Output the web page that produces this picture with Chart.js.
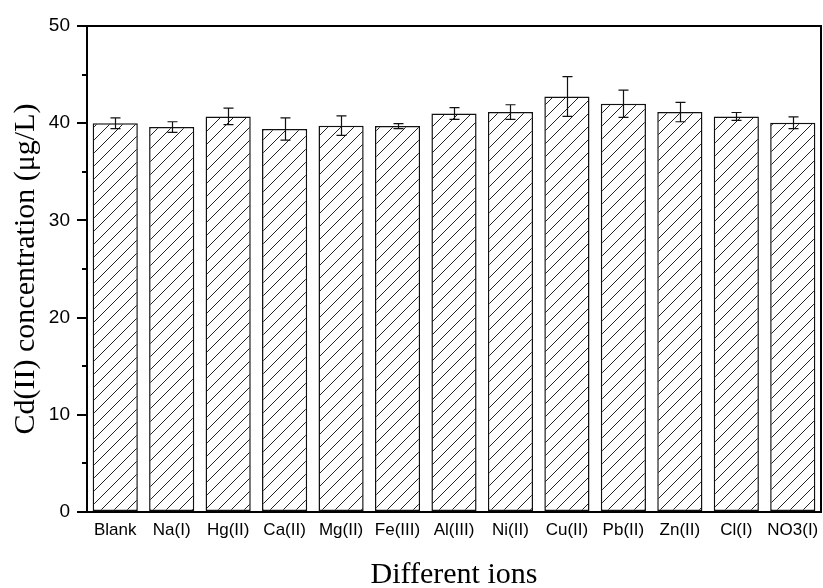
<!DOCTYPE html>
<html>
<head>
<meta charset="utf-8">
<script src="https://cdn.jsdelivr.net/npm/chart.js@4.4.1/dist/chart.umd.min.js"></script>
<style>
  html, body { margin: 0; padding: 0; background: #fff; }
  canvas { display: block; }
</style>
</head>
<body>
<canvas id="c" width="823" height="588"></canvas>
<script>
// Cd(II) recovery in the presence of interfering ions
const ions = ['Blank', 'Na(I)', 'Hg(II)', 'Ca(II)', 'Mg(II)', 'Fe(III)', 'Al(III)',
              'Ni(II)', 'Cu(II)', 'Pb(II)', 'Zn(II)', 'Cl(I)', 'NO3(I)'];
const cdConcentration = [40.0, 39.6, 40.7, 39.4, 39.75, 39.7, 41.0,
                         41.15, 42.75, 42.0, 41.15, 40.7, 40.05];
const cdError = [0.55, 0.55, 0.85, 1.15, 1.0, 0.25, 0.6,
                 0.75, 2.05, 1.4, 1.0, 0.4, 0.6];
const yMajorTicks = [0, 10, 20, 30, 40, 50];
const yMinorTicks = [5, 15, 25, 35, 45];

const SANS = "'Liberation Sans', Arial, Helvetica, sans-serif";
const SERIF = "'Liberation Serif', 'Times New Roman', Times, serif";

// diagonal "/" hatch fill
function hatchPattern() {
  const s = 13;
  const pc = document.createElement('canvas');
  pc.width = s; pc.height = s;
  const g = pc.getContext('2d');
  g.fillStyle = '#fff';
  g.fillRect(0, 0, s, s);
  g.strokeStyle = '#222';
  g.lineWidth = 1;
  g.beginPath();
  g.moveTo(-1, s + 1); g.lineTo(s + 1, -1);
  g.moveTo(-1, 1); g.lineTo(1, -1);
  g.moveTo(s - 1, s + 1); g.lineTo(s + 1, s - 1);
  g.stroke();
  return document.getElementById('c').getContext('2d').createPattern(pc, 'repeat');
}

// error bars, minor y ticks and the closing frame
const extras = {
  id: 'extras',
  afterDatasetsDraw(chart) {
    const ctx = chart.ctx;
    const y = chart.scales.y;
    const meta = chart.getDatasetMeta(0);
    ctx.save();
    ctx.strokeStyle = '#111';
    ctx.lineWidth = 1.2;
    const cap = 5;
    meta.data.forEach((bar, i) => {
      const cx = Math.round(bar.x) + 0.5;
      const top = y.getPixelForValue(cdConcentration[i] + cdError[i]);
      const bot = y.getPixelForValue(cdConcentration[i] - cdError[i]);
      ctx.beginPath();
      ctx.moveTo(cx, top); ctx.lineTo(cx, bot);
      ctx.moveTo(cx - cap, top); ctx.lineTo(cx + cap, top);
      ctx.moveTo(cx - cap, bot); ctx.lineTo(cx + cap, bot);
      ctx.stroke();
    });
    ctx.restore();
  },
  afterDraw(chart) {
    const ctx = chart.ctx;
    const a = chart.chartArea;
    const y = chart.scales.y;
    ctx.save();
    ctx.strokeStyle = '#000';
    ctx.lineWidth = 2;
    ctx.beginPath();
    ctx.moveTo(a.left, a.top);
    ctx.lineTo(a.right, a.top);
    ctx.lineTo(a.right, a.bottom);
    ctx.stroke();
    ctx.beginPath();
    yMinorTicks.forEach(v => {
      const py = Math.round(y.getPixelForValue(v));
      ctx.moveTo(a.left - 5, py);
      ctx.lineTo(a.left, py);
    });
    ctx.stroke();
    ctx.restore();
  }
};

new Chart(document.getElementById('c'), {
  type: 'bar',
  data: {
    labels: ions,
    datasets: [{
      data: cdConcentration,
      backgroundColor: hatchPattern(),
      borderColor: '#111',
      borderWidth: 1.5,
      borderSkipped: false,
      barPercentage: 0.8,
      categoryPercentage: 1.0
    }]
  },
  options: {
    responsive: false,
    animation: false,
    devicePixelRatio: 1,
    layout: { padding: { top: 26, right: 2, left: 0, bottom: 0 } },
    plugins: { legend: { display: false }, tooltip: { enabled: false } },
    scales: {
      x: {
        grid: { display: true, drawOnChartArea: false, drawTicks: true, tickLength: 8, color: 'rgba(0,0,0,0)' },
        border: { display: true, color: '#000', width: 2 },
        ticks: {
          color: '#000',
          font: { family: SANS, size: 17 },
          padding: 0,
          maxRotation: 0,
          autoSkip: false
        },
        title: {
          display: true,
          text: 'Different ions',
          color: '#000',
          font: { family: SERIF, size: 30, lineHeight: 0.8 },
          padding: { top: 0, bottom: 1 }
        },
        afterFit(scale) { scale.height = 76; }
      },
      y: {
        min: 0,
        max: 50,
        afterBuildTicks(scale) { scale.ticks = yMajorTicks.map(v => ({ value: v })); },
        grid: { drawOnChartArea: false, drawTicks: true, tickLength: 10, color: '#000', lineWidth: 2 },
        border: { display: true, color: '#000', width: 2 },
        ticks: {
          color: '#000',
          font: { family: SANS, size: 19 },
          padding: 7
        },
        title: {
          display: true,
          text: 'Cd(II) concentration (μg/L)',
          color: '#000',
          font: { family: SERIF, size: 30, lineHeight: 0.8 },
          padding: { top: 14, bottom: 0 }
        },
        afterFit(scale) { scale.width = 87; }
      }
    }
  },
  plugins: [extras]
});
</script>
</body>
</html>
